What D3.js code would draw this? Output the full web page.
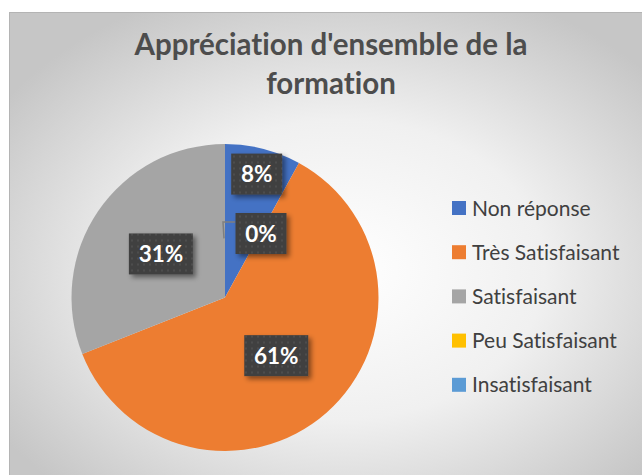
<!DOCTYPE html>
<html>
<head>
<meta charset="utf-8">
<script src="https://cdn.jsdelivr.net/npm/d3@7"></script>
<style>
  body { margin: 0; background: #fff; }
  svg { display: block; }
  text { font-variant-ligatures: none; }
</style>
</head>
<body>
<svg id="chart"></svg>
<script>
var categories = ["Non réponse", "Très Satisfaisant", "Satisfaisant", "Peu Satisfaisant", "Insatisfaisant"];
var values = [8, 61, 31, 0, 0];
var colors = ["#4472C4", "#ED7D31", "#A5A5A5", "#FFC000", "#5B9BD5"];
var titleLines = ["Appréciation d'ensemble de la", "formation"];

var dimensions = {
  width: 642,
  height: 475,
  box: { x: 9.5, y: 12.5 },
  pie: { cx: 225, cy: 297.5, r: 153.5 },
  legend: { x: 452, y: 201, step: 44.2, swatch: 14 },
};

var svg = d3
  .select("#chart")
  .attr("width", dimensions.width)
  .attr("height", dimensions.height);

var defs = svg.append("defs");

var grad = defs
  .append("radialGradient")
  .attr("id", "bg")
  .attr("cx", "52%")
  .attr("cy", "55%")
  .attr("r", "64%");
grad.append("stop").attr("offset", "0%").attr("stop-color", "#ffffff");
grad.append("stop").attr("offset", "50%").attr("stop-color", "#f0f0f0");
grad.append("stop").attr("offset", "100%").attr("stop-color", "#c6c6c6");

var pat = defs
  .append("pattern")
  .attr("id", "dots")
  .attr("width", 6)
  .attr("height", 6)
  .attr("patternUnits", "userSpaceOnUse");
pat.append("rect").attr("width", 6).attr("height", 6).attr("fill", "#404040");
pat.append("rect").attr("x", 2).attr("y", 2).attr("width", 2).attr("height", 2).attr("fill", "#4d4d4d");

var shadow = defs
  .append("filter")
  .attr("id", "shadow")
  .attr("x", "-30%")
  .attr("y", "-30%")
  .attr("width", "170%")
  .attr("height", "170%");
shadow
  .append("feDropShadow")
  .attr("dx", 3)
  .attr("dy", 3)
  .attr("stdDeviation", 2.5)
  .attr("flood-color", "#000")
  .attr("flood-opacity", 0.45);

// chart area
svg
  .append("rect")
  .attr("x", dimensions.box.x)
  .attr("y", dimensions.box.y)
  .attr("width", dimensions.width - dimensions.box.x + 5)
  .attr("height", dimensions.height - dimensions.box.y + 5)
  .attr("fill", "url(#bg)")
  .attr("stroke", "#b4b4b4")
  .attr("stroke-width", 1);

// title
svg
  .append("g")
  .selectAll("text")
  .data(titleLines)
  .enter()
  .append("text")
  .attr("x", 331)
  .attr("y", (d, i) => 55 + i * 39)
  .attr("text-anchor", "middle")
  .attr("font-family", "Lato, 'Open Sans', sans-serif")
  .attr("font-weight", "bold")
  .attr("font-size", 29.5)
  .attr("fill", "#4d4d4d")
  .text((d) => d);

// pie
var pie = d3.pie().sort(null).value((d) => d.value);
var arcs = pie(categories.map((c, i) => ({ name: c, value: values[i], color: colors[i] })));
var arc = d3.arc().innerRadius(0).outerRadius(dimensions.pie.r);

var pieG = svg
  .append("g")
  .attr("transform", "translate(" + dimensions.pie.cx + "," + dimensions.pie.cy + ")");

pieG
  .selectAll("path")
  .data(arcs.filter((d) => d.value > 0))
  .enter()
  .append("path")
  .attr("d", arc)
  .attr("fill", (d) => d.data.color);

// labels: big slices at half radius, small ones near the rim, zeros pulled aside with a leader
var fmt = (v) => Math.round(v) + "%";
var shownZero = false;
var labels = arcs.filter((d) => {
  if (d.value > 0) return true;
  if (shownZero) return false;
  shownZero = true;
  return true;
});

function labelPos(d) {
  var a = (d.startAngle + d.endAngle) / 2;
  var r = dimensions.pie.r;
  if (d.value === 0) {
    return [36, -64];
  }
  var k = d.value < 10 ? 0.83 : 0.505;
  return [Math.sin(a) * r * k, -Math.cos(a) * r * k];
}

var labelG = pieG.selectAll("g.label").data(labels).enter().append("g").attr("class", "label");

labelG
  .filter((d) => d.value === 0)
  .append("polyline")
  .attr("points", (d) => {
    var p = labelPos(d);
    var a = d.startAngle;
    var rr = dimensions.pie.r * 0.385;
    return [
      [p[0] - 26, p[1] - 11.5],
      [Math.sin(a) * rr - 2, p[1] - 11.5],
      [Math.sin(a) * rr - 1, -Math.cos(a) * rr],
    ].join(" ");
  })
  .attr("fill", "none")
  .attr("stroke", "#7f7f7f")
  .attr("stroke-width", 1.5);

labelG
  .append("rect")
  .attr("x", (d) => labelPos(d)[0] - (d.value >= 10 ? 32 : 25.5))
  .attr("y", (d) => labelPos(d)[1] - 20.5)
  .attr("width", (d) => (d.value >= 10 ? 64 : 51))
  .attr("height", 41)
  .attr("fill", "url(#dots)")
  .attr("filter", "url(#shadow)");

labelG
  .append("text")
  .attr("x", (d) => labelPos(d)[0])
  .attr("y", (d) => labelPos(d)[1] + 8)
  .attr("text-anchor", "middle")
  .attr("font-family", "Lato, 'Open Sans', sans-serif")
  .attr("font-weight", "bold")
  .attr("font-size", 22.5)
  .attr("fill", "#ffffff")
  .text((d) => fmt(d.value));

// legend
var legend = svg
  .append("g")
  .selectAll("g")
  .data(categories)
  .enter()
  .append("g")
  .attr(
    "transform",
    (d, i) => "translate(" + dimensions.legend.x + "," + (dimensions.legend.y + i * dimensions.legend.step) + ")"
  );

legend
  .append("rect")
  .attr("width", dimensions.legend.swatch)
  .attr("height", dimensions.legend.swatch)
  .attr("fill", (d, i) => colors[i]);

legend
  .append("text")
  .attr("x", 20)
  .attr("y", 14.5)
  .attr("font-family", "Lato, 'Open Sans', sans-serif")
  .attr("font-size", 21)
  .attr("fill", "#404040")
  .text((d) => d);
</script>
</body>
</html>
